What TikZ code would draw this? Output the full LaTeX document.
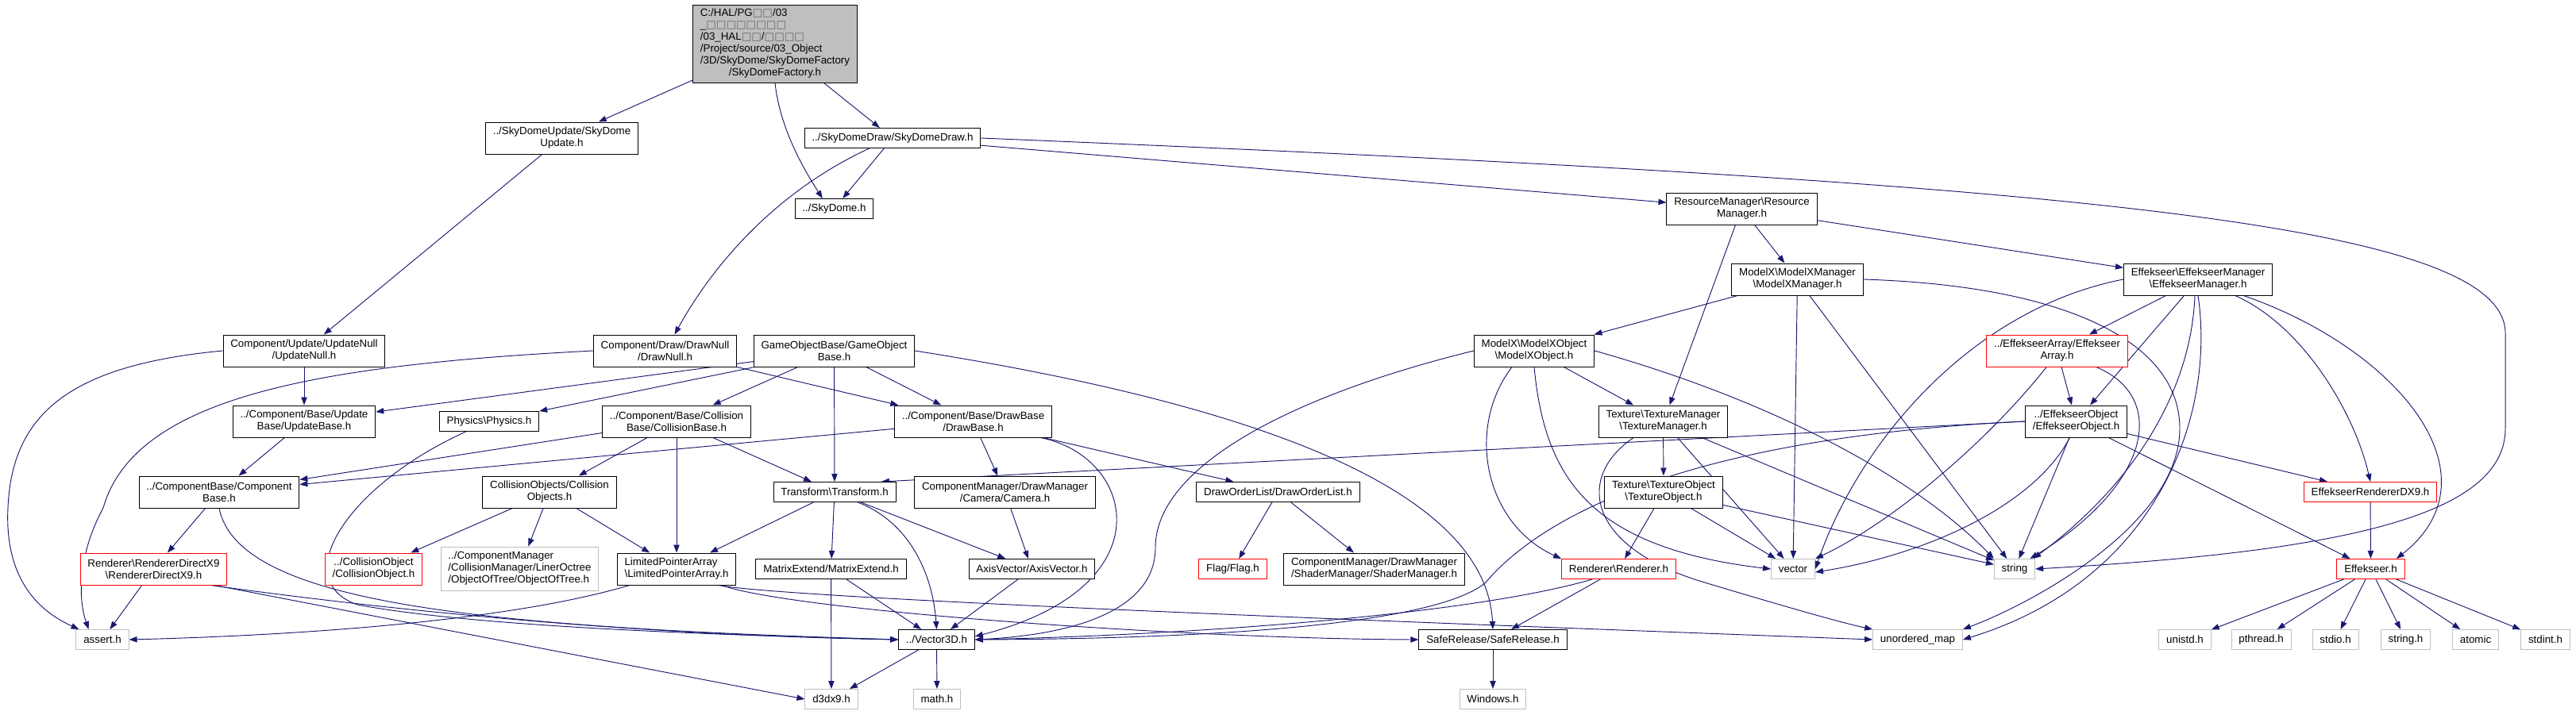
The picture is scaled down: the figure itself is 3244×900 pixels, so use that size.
\documentclass[tikz,border=0pt]{standalone}
\usepackage{fontspec}
\setmainfont{Liberation Sans}
\newfontfamily\symfont{DejaVu Sans}
\usepackage{xcolor}
\usepackage{tikz}
\usetikzlibrary{arrows.meta, backgrounds}
\definecolor{doxyblue}{HTML}{191970}
\definecolor{doxygray}{HTML}{BFBFBF}
\definecolor{doxyred}{HTML}{FF0000}
\newcommand{\bsl}{\textbackslash}
\newcommand{\tofu}{{\symfont\textcolor{black!60}{□}}}

\begin{document}
\begin{tikzpicture}[
    x=0.75pt, y=-0.75pt,
    file/.style={rectangle, draw=#1, fill=white, line width=0.75pt,
                 font=\fontsize{10}{11.25}\selectfont, align=center,
                 inner xsep=7pt, inner ysep=1pt, minimum height=18.75pt},
    file/.default=black,
    twoline/.style={minimum height=30pt},
    arrow/.style={-{Triangle[length=7.5pt,width=5.5pt]}, draw=doxyblue, line width=0.7pt}
]
\useasboundingbox (0,0) rectangle (3244,900);

% Root file
\node[file, fill=doxygray, minimum height=73.5pt] at (976,55) (root) {\begin{tabular}{@{}l@{}}C:/HAL/PG\tofu\tofu/03\\\_\tofu\tofu\tofu\tofu\tofu\tofu\tofu\tofu\\/03\_HAL\tofu\tofu/\tofu\tofu\tofu\tofu\\/Project/source/03\_Object\\/3D/SkyDome/SkyDomeFactory\\\multicolumn{1}{@{}c@{}}{/SkyDomeFactory.h}\end{tabular}};

% SkyDome headers
\node[file, twoline] at (707.5,174) (updsky) {../SkyDomeUpdate/SkyDome\\Update.h};
\node[file] at (1124,174) (drawsky) {../SkyDomeDraw/SkyDomeDraw.h};
\node[file] at (1050.5,263) (skydome) {../SkyDome.h};
\node[file, twoline] at (2193.5,263) (resmgr) {ResourceManager\bsl Resource\\Manager.h};
\node[file, twoline] at (2263.5,352) (mxmgr) {ModelX\bsl ModelXManager\\\bsl ModelXManager.h};
\node[file, twoline] at (2768,352) (efkmgr) {Effekseer\bsl EffekseerManager\\\bsl EffekseerManager.h};

% Components and objects
\node[file, twoline] at (383,442) (updnull) {Component/Update/UpdateNull\\/UpdateNull.h};
\node[file, twoline] at (837.5,442) (drawnull) {Component/Draw/DrawNull\\/DrawNull.h};
\node[file, twoline] at (1050.5,442) (gobase) {GameObjectBase/GameObject\\Base.h};
\node[file, twoline] at (1932,442) (mxobj) {ModelX\bsl ModelXObject\\\bsl ModelXObject.h};
\node[file=doxyred, twoline] at (2590.5,442) (efkarr) {../EffekseerArray/Effekseer\\Array.h};

\node[file, twoline] at (383,531) (updbase) {../Component/Base/Update\\Base/UpdateBase.h};
\node[file] at (616,531) (physics) {Physics\bsl Physics.h};
\node[file, twoline] at (852,531) (colbase) {../Component/Base/Collision\\Base/CollisionBase.h};
\node[file, twoline] at (1225.5,531) (drawbase) {../Component/Base/DrawBase\\/DrawBase.h};
\node[file, twoline] at (2094.5,531) (texmgr) {Texture\bsl TextureManager\\\bsl TextureManager.h};
\node[file, twoline] at (2614.5,531) (efkobj) {../EffekseerObject\\/EffekseerObject.h};

\node[file, twoline] at (276,620) (compbase) {../ComponentBase/Component\\Base.h};
\node[file, twoline] at (692,620) (colobjs) {CollisionObjects/Collision\\Objects.h};
\node[file] at (1051,620) (transform) {Transform\bsl Transform.h};
\node[file, twoline] at (1265.5,620) (camera) {ComponentManager/DrawManager\\/Camera/Camera.h};
\node[file] at (1609.5,620) (drawlist) {DrawOrderList/DrawOrderList.h};
\node[file, twoline] at (2095,620) (texobj) {Texture\bsl TextureObject\\\bsl TextureObject.h};
\node[file=doxyred] at (2985,620) (efkdx9) {EffekseerRendererDX9.h};

\node[file=doxyred, twoline] at (193.5,717) (rdx9) {Renderer\bsl RendererDirectX9\\\bsl RendererDirectX9.h};
\node[file=doxyred, twoline] at (470.5,717) (colobj) {../CollisionObject\\/CollisionObject.h};
\node[file=doxygray, align=left, minimum height=41.25pt] at (654.5,716.5) (octree) {../ComponentManager\\/CollisionManager/LinerOctree\\/ObjectOfTree/ObjectOfTree.h};
\node[file, twoline, align=left] at (852,717) (lparray) {LimitedPointerArray\\\bsl LimitedPointerArray.h};
\node[file] at (1046.5,717) (matext) {MatrixExtend/MatrixExtend.h};
\node[file] at (1299.5,717) (axisvec) {AxisVector/AxisVector.h};
\node[file=doxyred] at (1552.5,717) (flag) {Flag/Flag.h};
\node[file, twoline] at (1730.5,717) (shader) {ComponentManager/DrawManager\\/ShaderManager/ShaderManager.h};
\node[file=doxyred] at (2038.5,717) (renderer) {Renderer\bsl Renderer.h};
\node[file=doxygray] at (2258,717) (vector) {vector};
\node[file=doxygray] at (2537,717) (string) {string};
\node[file=doxyred] at (2985.5,717) (effekseer) {Effekseer.h};

% Bottom rows
\node[file=doxygray] at (129,806) (assert) {assert.h};
\node[file] at (1179.5,806) (vec3d) {../Vector3D.h};
\node[file] at (1880,806) (saferel) {SafeRelease/SafeRelease.h};
\node[file=doxygray] at (2415,806) (umap) {unordered\_map};
\node[file=doxygray] at (2751.5,806) (unistd) {unistd.h};
\node[file=doxygray] at (2847.5,806) (pthread) {pthread.h};
\node[file=doxygray] at (2941,806) (stdio) {stdio.h};
\node[file=doxygray] at (3029.5,806) (stringh) {string.h};
\node[file=doxygray] at (3117.5,806) (atomic) {atomic};
\node[file=doxygray] at (3205.5,806) (stdint) {stdint.h};
\node[file=doxygray] at (1047,881) (d3dx9) {d3dx9.h};
\node[file=doxygray] at (1180,881) (math) {math.h};
\node[file=doxygray] at (1880,881) (windows) {Windows.h};

\begin{scope}[on background layer]
\fill[white] (0,0) rectangle (3244,900);

% Includes of the root
\draw[arrow] (root) -- (updsky);
\draw[arrow] (root.south) .. controls (982,160) and (1010,210) .. ([xshift=-11pt]skydome.north);
\draw[arrow] (root) -- (drawsky);
\draw[arrow] (updsky) -- (updnull);

% SkyDomeDraw
\draw[arrow] (drawsky) -- (skydome);
\draw[arrow] ([xshift=-22pt]drawsky.south) .. controls (980,240) and (900,330) .. ([xshift=9pt]drawnull.north);
\draw[arrow] (drawsky) -- (resmgr);
\draw[arrow] (drawsky.east) .. controls (2600,230) and (3155,280) .. (3155,420) -- (3155,540) .. controls (3155,650) and (2950,695) .. (string.east);

% Managers
\draw[arrow] (resmgr) -- (mxmgr);
\draw[arrow] ([xshift=-6pt]resmgr.south) -- ([xshift=6pt]texmgr.north);
\draw[arrow] (resmgr) -- (efkmgr);
\draw[arrow] (mxmgr) -- (mxobj);
\draw[arrow] (mxmgr) -- (vector);
\draw[arrow] (mxmgr) -- (string);
\draw[arrow] (mxmgr.east) .. controls (2600,360) and (2745,430) .. (2745,540) .. controls (2745,660) and (2560,760) .. (umap.north east);
\draw[arrow] (efkmgr) -- (efkarr);
\draw[arrow] (efkmgr) -- (efkobj);
\draw[arrow] (efkmgr.west) .. controls (2480,390) and (2340,560) .. (vector.east);
\draw[arrow] ([xshift=-3pt]efkmgr.south) .. controls (2760,480) and (2700,600) .. ([xshift=-2pt]string.north east);
\draw[arrow] (efkmgr.south) .. controls (2790,520) and (2720,730) .. (umap.east);
\draw[arrow] ([xshift=35pt]efkmgr.south) .. controls (2900,410) and (2965,520) .. (efkdx9.north);
\draw[arrow] ([xshift=43pt]efkmgr.south) .. controls (3020,440) and (3150,600) .. ([xshift=-8pt]effekseer.north east);

% ModelX, Texture, Effekseer
\draw[arrow] (mxobj.west) .. controls (1620,500) and (1455,590) .. (1455,690) .. controls (1455,770) and (1350,800) .. (vec3d.east);
\draw[arrow] ([xshift=-21pt]mxobj.south) .. controls (1845,540) and (1870,660) .. (renderer.north west);
\draw[arrow] (mxobj) -- (texmgr);
\draw[arrow] (mxobj.east) .. controls (2250,510) and (2420,610) .. (string.north west);
\draw[arrow] (mxobj.south) .. controls (1945,600) and (2000,690) .. (vector.west);
\draw[arrow] (efkarr) -- (efkobj);
\draw[arrow] ([xshift=-10pt]efkarr.south) .. controls (2500,560) and (2380,660) .. (vector.north east);
\draw[arrow] ([xshift=-30pt]efkarr.south east) .. controls (2730,500) and (2710,610) .. ([xshift=-5pt]string.north east);
\draw[arrow] (efkobj) -- (string);
\draw[arrow] ([xshift=-6pt]efkobj.south) .. controls (2560,640) and (2420,700) .. ([yshift=-3pt]vector.east);
\draw[arrow] (efkobj) -- (efkdx9);
\draw[arrow] (efkobj) -- (effekseer);
\draw[arrow] (efkobj.west) -- ([xshift=-14pt]transform.north east);
\draw[arrow] (efkobj.west) .. controls (2150,550) and (1950,640) .. (1870,735) .. controls (1800,790) and (1500,805) .. (vec3d.east);
\draw[arrow] (texmgr) -- (texobj);
\draw[arrow] (texmgr) -- (vector);
\draw[arrow] (texmgr) -- (string);
\draw[arrow] ([xshift=-28pt]texmgr.south) .. controls (1985,600) and (1995,690) .. (2150,735) .. controls (2250,765) and (2320,785) .. (umap.north west);
\draw[arrow] (texobj) -- (renderer);
\draw[arrow] (texobj) -- (vector);
\draw[arrow] (texobj) -- (string);
\draw[arrow] (renderer) -- (saferel);
\draw[arrow] ([xshift=-25pt]renderer.south) .. controls (1850,775) and (1500,800) .. (vec3d.east);
\draw[arrow] (efkdx9) -- (effekseer);
\draw[arrow] (effekseer) -- (unistd);
\draw[arrow] (effekseer) -- (pthread);
\draw[arrow] (effekseer) -- (stdio);
\draw[arrow] (effekseer) -- (stringh);
\draw[arrow] (effekseer) -- (atomic);
\draw[arrow] (effekseer) -- (stdint);

% Update / Draw side
\draw[arrow] (updnull.west) .. controls (90,460) and (15,520) .. (10,640) .. controls (5,740) and (60,775) .. ([xshift=3pt]assert.north west);
\draw[arrow] (updnull) -- (updbase);
\draw[arrow] (drawnull.west) .. controls (400,460) and (170,500) .. (130,640) .. controls (95,705) and (100,760) .. ([xshift=-13pt]assert.north);
\draw[arrow] (drawnull.south east) -- ([xshift=4pt]drawbase.north west);
\draw[arrow] (gobase) -- (updbase);
\draw[arrow] (gobase) -- (physics);
\draw[arrow] (gobase) -- (colbase);
\draw[arrow] (gobase) -- (transform);
\draw[arrow] (gobase) -- (drawbase);
\draw[arrow] (gobase.east) .. controls (1520,500) and (1870,600) .. (saferel.north);
\draw[arrow] (updbase) -- (compbase);
\draw[arrow] ([xshift=-22pt]physics.south) .. controls (440,610) and (360,730) .. (450,762) .. controls (600,790) and (900,800) .. (vec3d.west);
\draw[arrow] (colbase) -- (compbase);
\draw[arrow] (colbase) -- (colobjs);
\draw[arrow] (colbase) -- (lparray);
\draw[arrow] (colbase) -- (transform);
\draw[arrow] (drawbase) -- (compbase);
\draw[arrow] (drawbase) -- (camera);
\draw[arrow] (drawbase) -- (drawlist);
\draw[arrow] ([xshift=-11pt]drawbase.south east) .. controls (1430,575) and (1470,740) .. ([yshift=3pt]vec3d.east);
\draw[arrow] (compbase) -- (rdx9);
\draw[arrow] (compbase.south) .. controls (300,760) and (600,790) .. (vec3d.west);
\draw[arrow] (colobjs) -- (colobj);
\draw[arrow] (colobjs) -- (octree);
\draw[arrow] (colobjs) -- (lparray);
\draw[arrow] (transform) -- (lparray);
\draw[arrow] (transform) -- (matext);
\draw[arrow] ([xshift=22pt]transform.south) .. controls (1150,660) and (1175,730) .. (vec3d.north);
\draw[arrow] (transform) -- (axisvec);
\draw[arrow] (camera) -- (axisvec);
\draw[arrow] (axisvec) -- (vec3d);
\draw[arrow] (drawlist) -- (flag);
\draw[arrow] (drawlist) -- (shader);
\draw[arrow] (rdx9) -- (assert);
\draw[arrow] ([xshift=-12pt]rdx9.south east) -- (d3dx9.west);
\draw[arrow] ([xshift=-16pt]rdx9.south east) .. controls (500,770) and (800,800) .. (vec3d.west);
\draw[arrow] ([xshift=12pt]lparray.south west) .. controls (650,780) and (400,800) .. (assert.east);
\draw[arrow] ([xshift=-17pt]lparray.south east) .. controls (1000,755) and (1800,785) .. (umap.west);
\draw[arrow] ([xshift=-14pt]lparray.south east) .. controls (1000,770) and (1500,805) .. (saferel.west);
\draw[arrow] (matext) -- (d3dx9);
\draw[arrow] (matext) -- (vec3d);
\draw[arrow] (vec3d) -- (d3dx9);
\draw[arrow] (vec3d) -- (math);
\draw[arrow] (saferel) -- (windows);
\end{scope}

\end{tikzpicture}
\end{document}
